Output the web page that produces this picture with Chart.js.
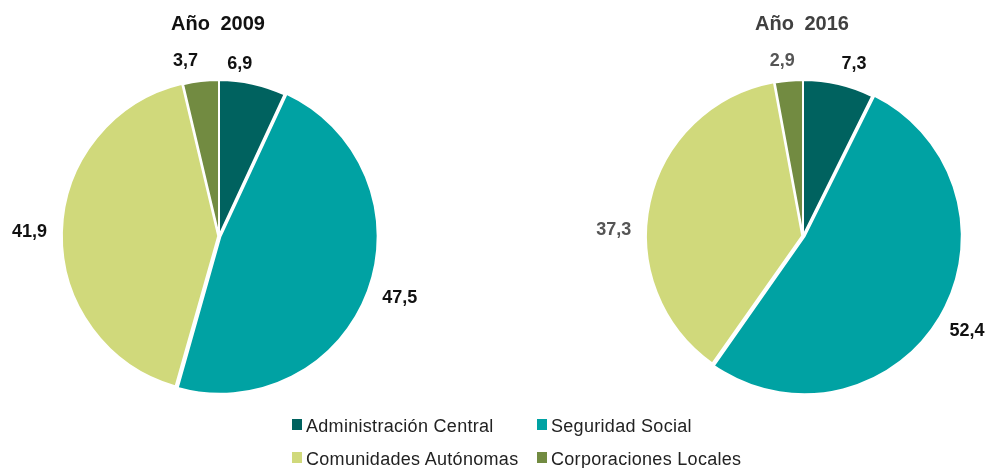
<!DOCTYPE html>
<html>
<head>
<meta charset="utf-8">
<script src="https://cdn.jsdelivr.net/npm/chart.js@4/dist/chart.umd.min.js"></script>
<style>
  html, body { margin:0; padding:0; width:991px; height:468px; overflow:hidden; background:#fff; }
  body { position:relative; font-family:"Liberation Sans", Arial, sans-serif; }
  canvas { position:absolute; top:0; }
  #c1 { left:-1px; }
  #c2 { left:583px; }
  .title { position:absolute; top:13px; width:200px; text-align:center; font-weight:bold; font-size:20px; line-height:20px; word-spacing:5px; }
  .leg { position:absolute; font-size:18px; line-height:18px; color:#222; white-space:nowrap; letter-spacing:0.3px; }
  .sw { position:absolute; width:10px; height:11px; }
</style>
</head>
<body>
<canvas id="c1" width="440" height="472"></canvas>
<canvas id="c2" width="440" height="472"></canvas>
<div class="title" id="t1" style="left:118px;color:#111;"></div>
<div class="title" id="t2" style="left:702px;color:#404040;"></div>
<div id="legend"></div>
<script>
const categories = ['Administración Central', 'Seguridad Social', 'Comunidades Autónomas', 'Corporaciones Locales'];
const titles = ['Año 2009', 'Año 2016'];
const values2009 = [6.9, 47.5, 41.9, 3.7];
const values2016 = [7.3, 52.4, 37.3, 2.9];

const colors = ['#00625f', '#00a2a3', '#d0d97b', '#728b41'];
const sliceOffsets = [0, 6, 3, 0];

const fmt = v => v.toFixed(1).replace('.', ',');

const outLabels = {
  id: 'outLabels',
  afterDatasetsDraw(chart, args, opts) {
    const ctx = chart.ctx;
    const meta = chart.getDatasetMeta(0);
    const ds = chart.data.datasets[0];
    ctx.save();
    ctx.font = 'bold 18px "Liberation Sans", Arial, sans-serif';
    ctx.textAlign = 'center';
    ctx.textBaseline = 'middle';
    meta.data.forEach((arc, i) => {
      const p = arc.getProps(['x', 'y', 'startAngle', 'endAngle', 'outerRadius'], true);
      const mid = (p.startAngle + p.endAngle) / 2;
      const txt = fmt(ds.data[i]);
      const w = ctx.measureText(txt).width;
      const h = 13;
      const r = p.outerRadius + opts.gap;
      const c = Math.cos(mid), s = Math.sin(mid);
      const n = opts.nudge[i];
      const px = p.x + c * r + c * w / 2 + n[0];
      const py = p.y + s * r + s * h / 2 + n[1];
      ctx.fillStyle = opts.colors[i];
      ctx.fillText(txt, px, py);
    });
    ctx.restore();
  }
};

function makePie(id, values, labelColors, nudge) {
  return new Chart(document.getElementById(id), {
    type: 'pie',
    data: {
      labels: categories,
      datasets: [{
        data: values,
        backgroundColor: colors,
        borderColor: '#ffffff',
        borderWidth: 2,
        offset: sliceOffsets
      }]
    },
    options: {
      responsive: false,
      animation: false,
      radius: 156,
      layout: { padding: 0 },
      plugins: {
        legend: { display: false },
        tooltip: { enabled: false },
        title: { display: false },
        outLabels: { gap: 16, colors: labelColors, nudge: nudge }
      }
    },
    plugins: [outLabels]
  });
}

makePie('c1', values2009, ['#111', '#111', '#111', '#111'], [[-19, 2], [3, 0], [0, 0], [-12, 2]]);
makePie('c2', values2016, ['#111', '#111', '#555', '#555'], [[9, 2], [1, 4], [-4, 32], [-4, 3]]);

document.getElementById('t1').textContent = titles[0];
document.getElementById('t2').textContent = titles[1];

// legend (two columns, two rows)
const legPos = [[292, 417], [537, 417], [292, 450], [537, 450]];
const legend = document.getElementById('legend');
categories.forEach((name, i) => {
  const [x, y] = legPos[i];
  const sw = document.createElement('div');
  sw.className = 'sw';
  sw.style.left = x + 'px';
  sw.style.top = (y + 2) + 'px';
  sw.style.background = colors[i];
  legend.appendChild(sw);
  const t = document.createElement('div');
  t.className = 'leg';
  t.style.left = (x + 14) + 'px';
  t.style.top = y + 'px';
  t.textContent = name;
  legend.appendChild(t);
});
</script>
</body>
</html>
